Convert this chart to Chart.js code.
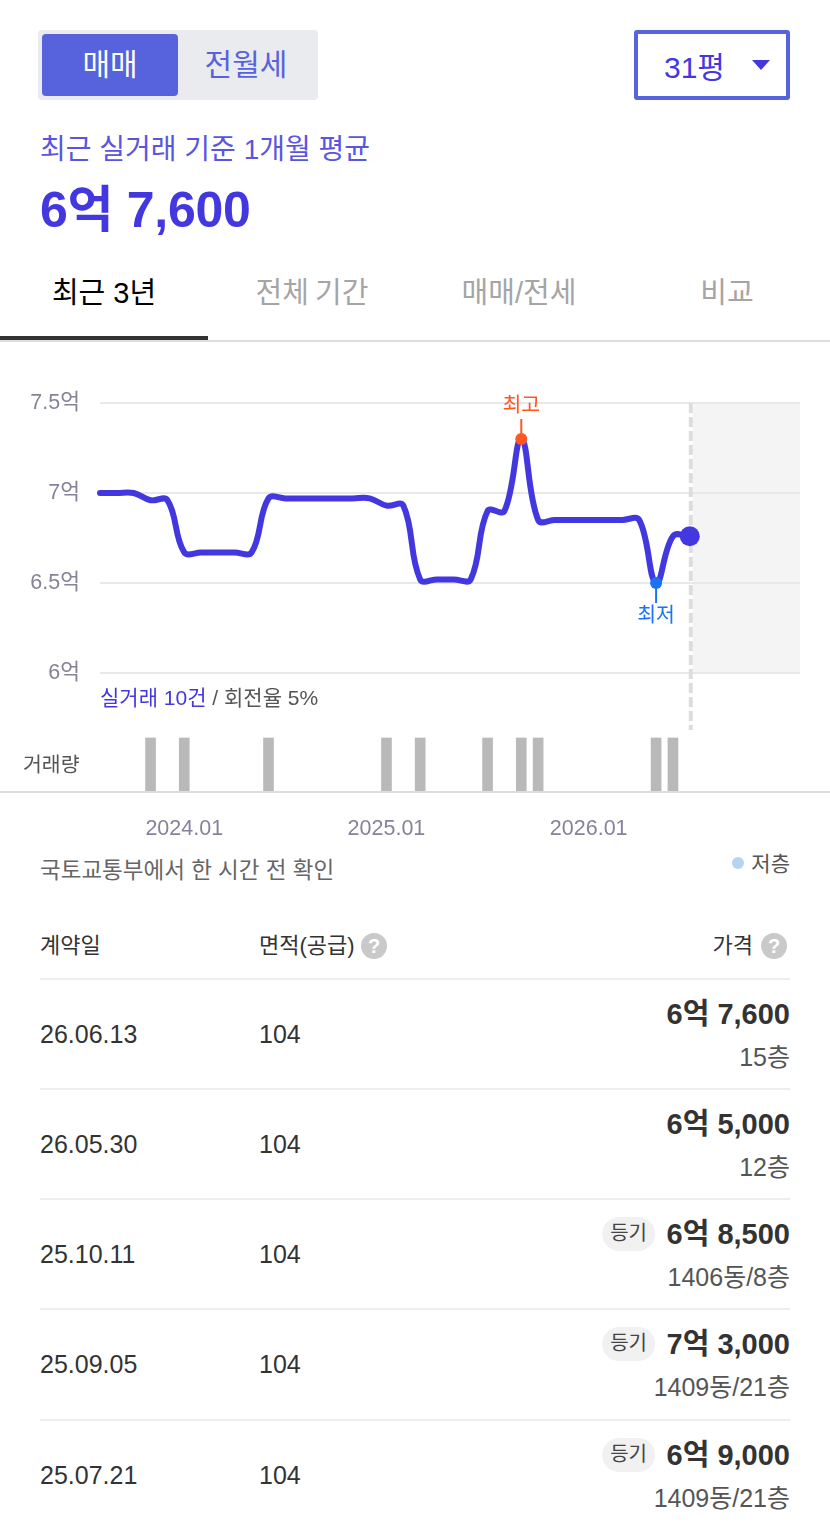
<!DOCTYPE html>
<html lang="ko">
<head>
<meta charset="utf-8">
<title>실거래가</title>
<script src="https://cdn.jsdelivr.net/npm/chart.js@4"></script>
<style>
  * { box-sizing: border-box; }
  html, body { margin: 0; background: #fff; width: 830px; height: 1530px; overflow: hidden; }
  body { position: relative; font-family: "Liberation Sans", "Noto Sans CJK KR", sans-serif; color: #333; }
  .box { position: absolute; }
  .t { position: absolute; white-space: nowrap; transform: translateY(-50%); line-height: 1.2; }
  .r { transform: translate(-100%, -50%); }
  .c { transform: translate(-50%, -50%); }
  canvas { position: absolute; left: 0; top: 380px; }
  .help { position: absolute; width: 26px; height: 26px; border-radius: 50%; background: #c9c9c9; color: #fff; font-size: 20px; font-weight: bold; text-align: center; line-height: 26px; }
  .tag { position: absolute; height: 34px; line-height: 33px; padding: 0 8px; border-radius: 17px; background: #f1f1f1; font-size: 20px; color: #444; transform: translateX(-100%); white-space: nowrap; }
  .rule { position: absolute; left: 40px; width: 750px; height: 2px; background: #eeeeee; }
</style>
</head>
<body>
<div class="box" style="left:38px;top:30px;width:280px;height:70px;background:#e9ebee;border-radius:4px"></div>
<div class="box" style="left:42px;top:34px;width:136px;height:62px;background:#5763dc;border-radius:4px"></div>
<div class="t c" style="left:110px;top:65px;font-size:30px;color:#fff">매매</div>
<div class="t c" style="left:246px;top:65px;font-size:30px;color:#5763dc">전월세</div>
<div class="box" style="left:634px;top:30px;width:156px;height:70px;border:4px solid #5763dc;border-radius:3px"></div>
<div class="t" style="left:664px;top:68px;font-size:30px;color:#4338e0">31평</div>
<div class="box" style="left:752px;top:60px;width:0;height:0;border-left:9px solid transparent;border-right:9px solid transparent;border-top:10px solid #4338e0"></div>

<div class="t" style="left:40px;top:150px;font-size:28px;color:#5a55e0">최근 실거래 기준 1개월 평균</div>
<div class="t" style="left:40px;top:210px;font-size:50px;font-weight:bold;color:#4338e0;letter-spacing:-0.3px">6억 7,600</div>

<div class="t c" style="left:104px;top:293px;font-size:29px;color:#000">최근 3년</div>
<div class="t c" style="left:312px;top:293px;font-size:29px;color:#a5a5a5;word-spacing:-2px">전체 기간</div>
<div class="t c" style="left:519px;top:293px;font-size:29px;color:#a5a5a5">매매/전세</div>
<div class="t c" style="left:727px;top:293px;font-size:29px;color:#a5a5a5">비교</div>
<div class="box" style="left:0;top:340px;width:830px;height:2px;background:#dddddd"></div>
<div class="box" style="left:0;top:336px;width:208px;height:4px;background:#333"></div>

<canvas id="chart" width="830" height="460"></canvas>

<div class="box" style="left:0;top:791px;width:830px;height:2px;background:#dddddd"></div>
<div class="t" style="left:100px;top:698px;font-size:21px;color:#555"><span style="color:#4338e0">실거래 10건</span> / 회전율 5%</div>
<div class="t" style="left:23px;top:765px;font-size:20.5px;color:#555">거래량</div>

<div class="t" style="left:40px;top:870px;font-size:22.5px;color:#666">국토교통부에서 한 시간 전 확인</div>
<div class="box" style="left:732px;top:857px;width:12px;height:12px;border-radius:50%;background:#b5d3f3"></div>
<div class="t r" style="left:790px;top:864px;font-size:21px;color:#555">저층</div>

<div class="t" style="left:40px;top:946px;font-size:22px">계약일</div>
<div class="t" style="left:259px;top:946px;font-size:22px">면적(공급)</div>
<div class="help" style="left:361px;top:933px">?</div>
<div class="t r" style="left:753px;top:946px;font-size:22px">가격</div>
<div class="help" style="left:761px;top:933px">?</div>
<div class="rule" style="top:978px"></div>
<div id="rows"></div>

<script>
// month offsets counted from 2024.01
const priceMonths = [-5, -4, -3, -2, -1, 0, 1, 2, 3, 4, 5, 6, 7, 8, 9, 10, 11, 12, 13, 14, 15, 16, 17, 18, 19, 20, 21, 22, 23, 24, 25, 26, 27, 28, 29, 30];
const priceValues = [7.0, 7.0, 7.0, 6.96, 6.96, 6.67, 6.67, 6.67, 6.67, 6.67, 6.97, 6.97, 6.97, 6.97, 6.97, 6.97, 6.97, 6.93, 6.93, 6.52, 6.52, 6.52, 6.52, 6.9, 6.9, 7.3, 6.85, 6.85, 6.85, 6.85, 6.85, 6.85, 6.85, 6.5, 6.76, 6.76];
const tradeMonths = [-2, 0, 5, 12, 14, 18, 20, 21, 28, 29];
const tradeCounts = [1, 1, 1, 1, 1, 1, 1, 1, 1, 1];
const yTicks = [6, 6.5, 7, 7.5];
const yTickLabels = ['6억', '6.5억', '7억', '7.5억'];
const xTicks = [0, 12, 24];
const xTickLabels = ['2024.01', '2025.01', '2026.01'];

const rowDates = ['26.06.13', '26.05.30', '25.10.11', '25.09.05', '25.07.21'];
const rowAreas = ['104', '104', '104', '104', '104'];
const rowPrices = ['6억 7,600', '6억 5,000', '6억 8,500', '7억 3,000', '6억 9,000'];
const rowFloors = ['15층', '12층', '1406동/8층', '1409동/21층', '1409동/21층'];
const rowTags = ['', '', '등기', '등기', '등기'];
const rowTops = [979, 1089, 1199, 1309, 1420];

const LINE = '#4338e0', HIGH = '#ff5722', LOW = '#1a73f5';
const font = '"Liberation Sans", "Noto Sans CJK KR", sans-serif';

const peakIdx = priceValues.indexOf(Math.max(...priceValues));
const lowIdx = priceValues.indexOf(Math.min(...priceValues));
const lastIdx = priceValues.length - 1;

const extras = {
  id: 'extras',
  beforeDraw(c) {
    const g = c.ctx, xs = c.scales.x, ys = c.scales.y;
    const x0 = xs.getPixelForValue(priceMonths[lastIdx]) + 3;
    g.fillStyle = '#f4f4f4';
    g.fillRect(x0, ys.getPixelForValue(7.5), c.chartArea.right - x0, ys.getPixelForValue(6) - ys.getPixelForValue(7.5));
  },
  beforeDatasetsDraw(c) {
    const g = c.ctx, xs = c.scales.x, ys = c.scales.y;
    const x0 = xs.getPixelForValue(priceMonths[lastIdx]) + 1;
    g.save();
    g.strokeStyle = '#dddddd';
    g.lineWidth = 4;
    g.setLineDash([10, 4]);
    g.beginPath();
    g.moveTo(x0, ys.getPixelForValue(7.5));
    g.lineTo(x0, 350);
    g.stroke();
    g.restore();
  },
  afterDatasetsDraw(c) {
    const g = c.ctx, xs = c.scales.x, ys = c.scales.y;
    const mark = (i, color, text, dir) => {
      const x = xs.getPixelForValue(priceMonths[i]), y = ys.getPixelForValue(priceValues[i]);
      g.save();
      g.strokeStyle = color;
      g.lineWidth = 2;
      g.beginPath();
      g.moveTo(x, y);
      g.lineTo(x, y + dir * 20);
      g.stroke();
      g.fillStyle = color;
      g.beginPath();
      g.arc(x, y, 6, 0, Math.PI * 2);
      g.fill();
      g.font = '20.5px ' + font;
      g.textAlign = 'center';
      g.textBaseline = 'middle';
      g.fillText(text, x, y + dir * 33);
      g.restore();
    };
    mark(peakIdx, HIGH, '최고', -1);
    mark(lowIdx, LOW, '최저', 1);
  }
};

new Chart(document.getElementById('chart'), {
  type: 'line',
  data: {
    datasets: [{
      type: 'line',
      data: priceMonths.map((m, i) => ({ x: m, y: priceValues[i] })),
      borderColor: LINE,
      borderWidth: 6,
      tension: 0.4,
      borderCapStyle: 'round',
      clip: false,
      pointBorderWidth: 0,
      pointBackgroundColor: LINE,
      pointRadius: ctx => (ctx.dataIndex === lastIdx ? 10 : 0),
      yAxisID: 'y'
    }, {
      type: 'bar',
      data: tradeMonths.map((m, i) => ({ x: m, y: tradeCounts[i] })),
      backgroundColor: '#b9b9b9',
      barThickness: 10,
      yAxisID: 'vol'
    }]
  },
  options: {
    responsive: false,
    animation: false,
    layout: { autoPadding: false, padding: { top: 23, right: 30, left: 0, bottom: 0 } },
    plugins: { legend: { display: false }, tooltip: { enabled: false } },
    scales: {
      x: {
        type: 'linear',
        offset: false,
        min: -5,
        max: 36.54,
        afterBuildTicks: s => { s.ticks = xTicks.map(v => ({ value: v })); },
        afterFit: s => { s.height = 48; },
        grid: { display: false },
        border: { display: false },
        ticks: {
          autoSkip: false,
          maxRotation: 0,
          padding: 16,
          color: '#85839a',
          font: { size: 21.5, family: font },
          callback: v => xTickLabels[xTicks.indexOf(v)]
        }
      },
      y: {
        min: 5.339,
        max: 7.5,
        afterBuildTicks: s => { s.ticks = yTicks.map(v => ({ value: v })); },
        afterFit: s => { s.width = 100; s.paddingTop = 0; s.paddingBottom = 0; },
        grid: { color: '#e8e8e8', lineWidth: 2, drawTicks: false },
        border: { display: false },
        ticks: {
          padding: 20,
          color: '#85839a',
          font: { size: 21.5, family: font },
          callback: v => yTickLabels[yTicks.indexOf(v)]
        }
      },
      vol: {
        display: false,
        min: 0,
        max: 7.2
      }
    }
  },
  plugins: [extras]
});

let html = '';
rowDates.forEach((d, i) => {
  const top = rowTops[i];
  html += `<div class="t" style="left:40px;top:${top + 55}px;font-size:25px">${d}</div>`;
  html += `<div class="t" style="left:259px;top:${top + 55}px;font-size:25px">${rowAreas[i]}</div>`;
  html += `<div class="t r" id="p${i}" style="left:790px;top:${top + 35}px;font-size:29px;font-weight:bold">${rowPrices[i]}</div>`;
  html += `<div class="t r" style="left:790px;top:${top + 78}px;font-size:25px;color:#555">${rowFloors[i]}</div>`;
  if (i < rowDates.length - 1) html += `<div class="rule" style="top:${rowTops[i + 1] - 1}px"></div>`;
});
document.getElementById('rows').innerHTML = html;
rowTags.forEach((tag, i) => {
  if (!tag) return;
  const w = document.getElementById('p' + i).offsetWidth;
  const el = document.createElement('div');
  el.className = 'tag';
  el.style.left = (790 - w - 12) + 'px';
  el.style.top = (rowTops[i] + 18) + 'px';
  el.textContent = tag;
  document.getElementById('rows').appendChild(el);
});
</script>
</body>
</html>
